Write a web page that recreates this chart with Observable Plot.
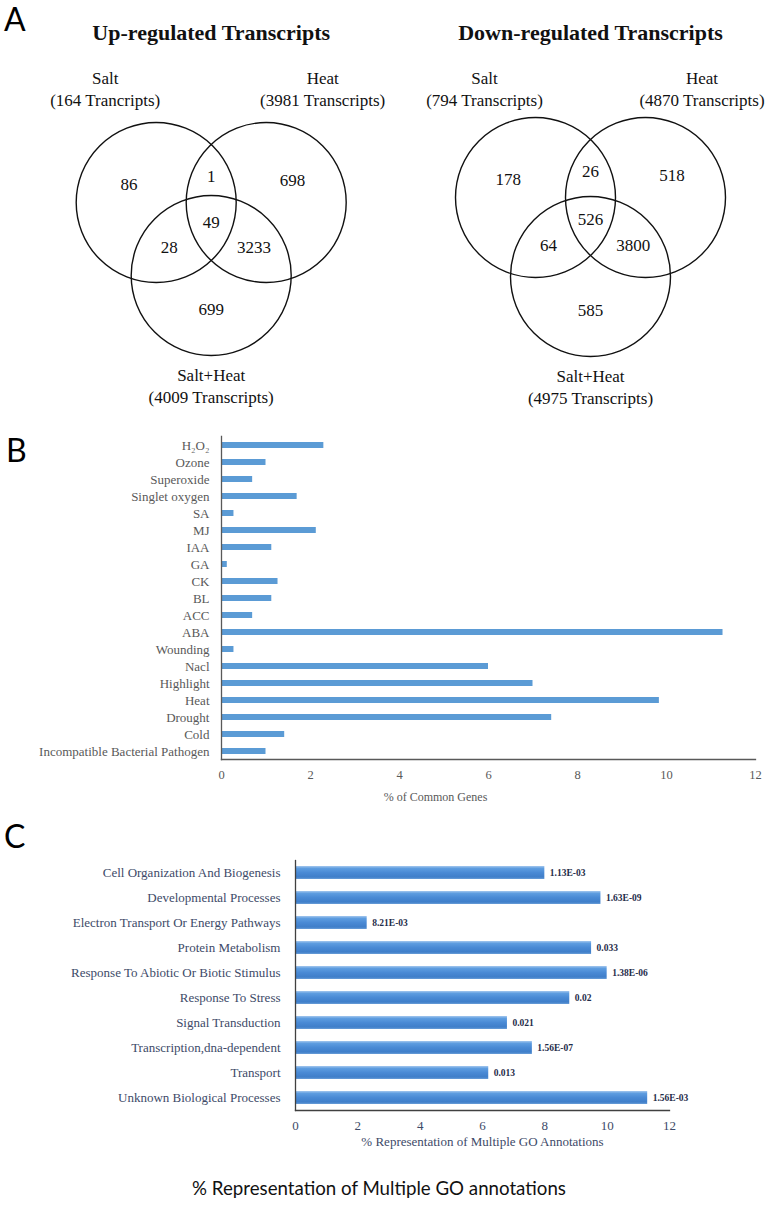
<!DOCTYPE html>
<html>
<head>
<meta charset="utf-8">
<script src="https://cdn.jsdelivr.net/npm/d3@7"></script>
<script src="https://cdn.jsdelivr.net/npm/@observablehq/plot@0.6"></script>
<style>
  body { margin: 0; background: #fff; }
  #root { position: relative; width: 770px; height: 1216px; overflow: hidden; background: #fff; }
  .panel { position: absolute; left: 0; }
  .letter { position: absolute; font-family: Lato, "Open Sans", sans-serif; font-size: 32px; line-height: 1; color: #000; }
  #caption { position: absolute; left: 0; width: 758px; text-align: center; font-family: Lato, "Open Sans", sans-serif; font-size: 18.7px; line-height: 20px; color: #111; }
</style>
</head>
<body>
<div id="root">
  <div class="panel" id="panelA" style="top:0px"></div>
  <div class="panel" id="panelB" style="top:420px"></div>
  <div class="panel" id="panelC" style="top:840px"></div>
  <div class="letter" style="left:4px;top:3px">A</div>
  <div class="letter" style="left:6px;top:434px">B</div>
  <div class="letter" style="left:4px;top:820px">C</div>
  <div id="caption" style="top:1178px">% Representation of Multiple GO annotations</div>
</div>
<script>
// ---------------- DATA ----------------
// Panel A: Venn diagrams
const vennTitles = ["Up-regulated Transcripts", "Down-regulated Transcripts"];
const vennSets = ["Salt", "Heat", "Salt+Heat"];
const upTotals = [164, 3981, 4009];
const upUnitWords = ["Trancripts", "Transcripts", "Transcripts"];
const downTotals = [794, 4870, 4975];
const downUnitWords = ["Transcripts", "Transcripts", "Transcripts"];
const vennRegions = ["Salt only", "Heat only", "Salt+Heat only", "Salt & Heat", "Salt & Salt+Heat", "Heat & Salt+Heat", "All three"];
const upCounts = [86, 698, 699, 1, 28, 3233, 49];
const downCounts = [178, 518, 585, 26, 64, 3800, 526];

// Panel B
const stimuli = ["H₂O₂", "Ozone", "Superoxide", "Singlet oxygen", "SA", "MJ", "IAA", "GA", "CK", "BL", "ACC", "ABA", "Wounding", "Nacl", "Highlight", "Heat", "Drought", "Cold", "Incompatible Bacterial Pathogen"];
const commonPct = [2.3, 1.0, 0.7, 1.7, 0.28, 2.13, 1.13, 0.13, 1.27, 1.13, 0.7, 11.27, 0.28, 6.0, 7.0, 9.84, 7.42, 1.42, 1.0];
const pctTicks = [0, 2, 4, 6, 8, 10, 12];
const bAxisLabel = "% of Common Genes";

// Panel C
const goTerms = ["Cell Organization And Biogenesis", "Developmental Processes", "Electron Transport Or Energy Pathways", "Protein Metabolism", "Response To Abiotic Or Biotic Stimulus", "Response To Stress", "Signal Transduction", "Transcription,dna-dependent", "Transport", "Unknown Biological Processes"];
const goPct = [8.0, 9.8, 2.3, 9.5, 10.0, 8.8, 6.8, 7.6, 6.2, 11.3];
const goPValues = ["1.13E-03", "1.63E-09", "8.21E-03", "0.033", "1.38E-06", "0.02", "0.021", "1.56E-07", "0.013", "1.56E-03"];
const cAxisLabel = "% Representation of Multiple GO Annotations";

// ---------------- LAYOUT (Venn geometry) ----------------
const SERIF = "'Liberation Serif', 'Times New Roman', serif";
const R = 80;
const vennLayouts = [
  {cx: 210.7, rowY: 202, halfGap: 55, drop: 73},
  {cx: 590, rowY: 197, halfGap: 55, drop: 79}
];
// region membership (indices of circles) and label offset (in units of radius)
const regionMembers = [[0], [1], [2], [0, 1], [0, 2], [1, 2], [0, 1, 2]];
const regionOffsets = [[-0.34, -0.22], [0.33, -0.27], [0, 0.42], [0, -0.33], [-0.18, 0.11], [0.19, 0.11], [0, -0.05]];

function circlesFor(L) {
  return [
    {x: L.cx - L.halfGap, y: L.rowY},
    {x: L.cx + L.halfGap, y: L.rowY},
    {x: L.cx, y: L.rowY + L.drop}
  ];
}

const circleData = [], regionData = [], setLabelData = [], titleData = [];
[[upCounts, upTotals, upUnitWords], [downCounts, downTotals, downUnitWords]].forEach(([counts, totals, units], k) => {
  const L = vennLayouts[k];
  const cs = circlesFor(L);
  cs.forEach((c, i) => circleData.push({...c, set: vennSets[i]}));
  vennRegions.forEach((name, j) => {
    const m = regionMembers[j];
    const mx = d3.mean(m, i => cs[i].x), my = d3.mean(m, i => cs[i].y);
    regionData.push({region: name, count: counts[j], x: mx + regionOffsets[j][0] * R, y: my + regionOffsets[j][1] * R});
  });
  const labelDx = [-51, 56.5, 0];
  vennSets.forEach((s, i) => {
    setLabelData.push({
      text: `${s}\n(${totals[i]} ${units[i]})`,
      x: cs[i].x + labelDx[i],
      y: i < 2 ? 87 : cs[2].y + 109
    });
  });
  titleData.push({text: vennTitles[k], x: L.cx, y: 32});
});

const plotA = Plot.plot({
  width: 770, height: 410, margin: 0,
  x: {type: "identity", axis: null}, y: {type: "identity", axis: null},
  style: {fontFamily: SERIF, background: "transparent", overflow: "visible"},
  marks: [
    Plot.dot(circleData, {x: "x", y: "y", r: R, stroke: "#111", strokeWidth: 1.4, fill: "none"}),
    Plot.text(regionData, {x: "x", y: "y", text: d => String(d.count), fontSize: 17, fontFamily: SERIF, fill: "#111"}),
    Plot.text(setLabelData, {x: "x", y: "y", text: "text", fontSize: 17, fontFamily: SERIF, lineHeight: 1.3, fill: "#111"}),
    Plot.text(titleData, {x: "x", y: "y", text: "text", fontSize: 22, fontFamily: SERIF, fontWeight: "bold", fill: "#111"})
  ]
});
document.getElementById("panelA").appendChild(plotA);

// ---------------- Panel B ----------------
const bData = stimuli.map((s, i) => ({stimulus: s, pct: commonPct[i]}));
const plotB = Plot.plot({
  width: 770, height: 400,
  marginTop: 16, marginBottom: 61, marginLeft: 221, marginRight: 15,
  x: {domain: [0, 12]},
  y: {domain: stimuli, paddingInner: 0.65, paddingOuter: 0.325},
  style: {fontFamily: SERIF, background: "transparent", overflow: "visible"},
  marks: [
    Plot.barX(bData, {x: "pct", y: "stimulus", fill: "#5b9bd5"}),
    Plot.frame({anchor: "left", stroke: "#595959", strokeWidth: 1.3}),
    Plot.frame({anchor: "bottom", stroke: "#595959", strokeWidth: 1.3}),
    Plot.axisY({tickSize: 0, tickPadding: 12, fontSize: 13, fill: "#595959", label: null}),
    Plot.axisX({ticks: pctTicks, tickSize: 0, tickPadding: 11, fontSize: 12.5, fill: "#595959", label: null}),
    Plot.text([bAxisLabel], {frameAnchor: "bottom", dx: -53, dy: 41, fontSize: 12, fill: "#595959"})
  ]
});
document.getElementById("panelB").appendChild(plotB);

// ---------------- Panel C ----------------
const cData = goTerms.map((t, i) => ({term: t, pct: goPct[i], p: goPValues[i]}));
const plotC = Plot.plot({
  width: 770, height: 320,
  marginTop: 20, marginBottom: 50, marginLeft: 295, marginRight: 101,
  x: {domain: [0, 12]},
  y: {domain: goTerms, paddingInner: 0.5, paddingOuter: 0.25},
  style: {fontFamily: SERIF, background: "transparent", overflow: "visible"},
  marks: [
    Plot.barX(cData, {x: "pct", y: "term", fill: "#4a8ad4"}),
    Plot.frame({anchor: "left", stroke: "#404040", strokeWidth: 1.3}),
    Plot.frame({anchor: "bottom", stroke: "#404040", strokeWidth: 1.3}),
    Plot.text(cData, {x: "pct", y: "term", text: "p", dx: 5, textAnchor: "start", fontSize: 9.5, fontWeight: "bold", fill: "#1f2d4a"}),
    Plot.axisY({tickSize: 0, tickPadding: 15, fontSize: 13, fill: "#3d4a68", label: null}),
    Plot.axisX({ticks: pctTicks, tickSize: 0, tickPadding: 10, fontSize: 13, fill: "#3d4a68", label: null}),
    Plot.text([cAxisLabel], {frameAnchor: "bottom", dy: 35, fontSize: 13, fill: "#3d4a68"})
  ]
});
document.getElementById("panelC").appendChild(plotC);

// gradient for the GO bars
const svgC = d3.select(plotC);
const grad = svgC.insert("defs", ":first-child").append("linearGradient")
  .attr("id", "goGrad").attr("x1", 0).attr("y1", 0).attr("x2", 0).attr("y2", 1);
[["0%", "#a4c7ee"], ["18%", "#5e9de0"], ["50%", "#4a8ad5"], ["85%", "#3f7ec9"], ["100%", "#6a9ed8"]]
  .forEach(([o, c]) => grad.append("stop").attr("offset", o).attr("stop-color", c));
svgC.select("g[aria-label='bar']").attr("fill", "url(#goGrad)");
</script>
</body>
</html>
